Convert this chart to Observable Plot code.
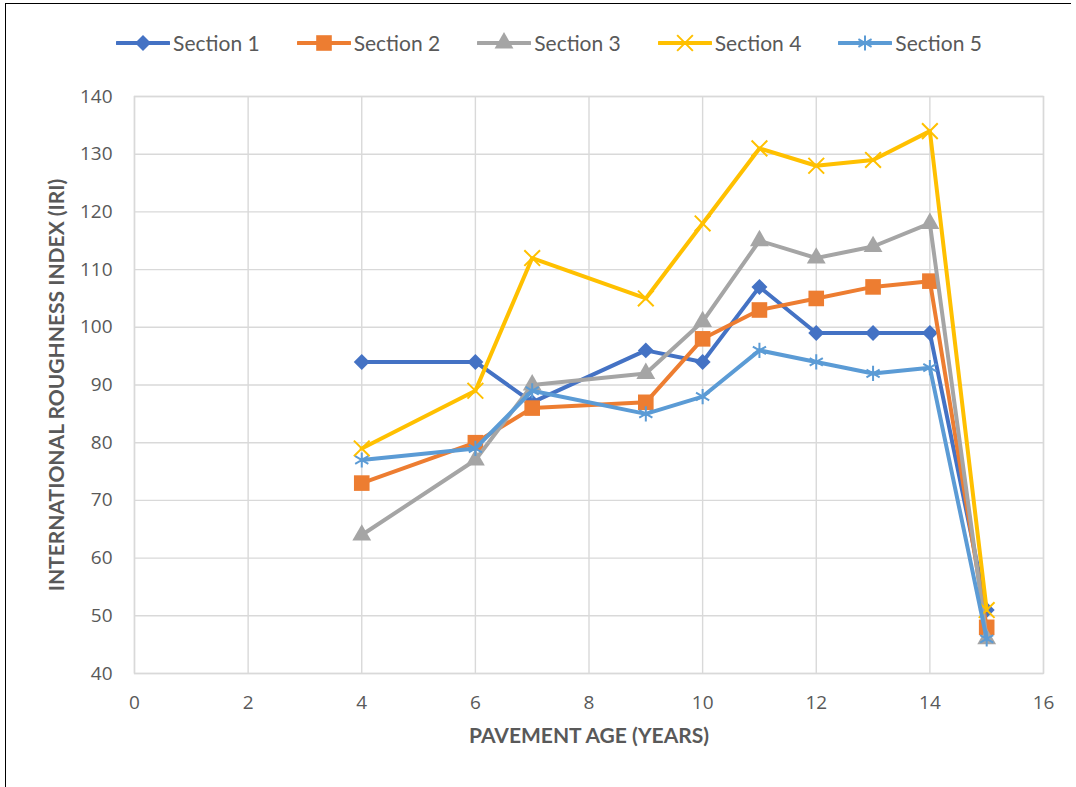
<!DOCTYPE html>
<html>
<head>
<meta charset="utf-8">
<script src="https://cdn.jsdelivr.net/npm/d3@7"></script>
<script src="https://cdn.jsdelivr.net/npm/@observablehq/plot@0.6"></script>
<style>
  html, body { margin: 0; padding: 0; background: #fff; }
  #page {
    position: relative; overflow: hidden;
    box-sizing: border-box; border-left: 1.5px solid #000; border-top: 1.5px solid #000;
    margin-left: 5px; margin-top: 3px; width: 1066px; height: 784px;
  }
  #wrap { position: absolute; left: -6.5px; top: -4.5px; width: 1076px; }
  #legend {
    height: 70px; display: flex; justify-content: center; align-items: center;
    gap: 37px; font-family: Lato, "Open Sans", sans-serif; font-size: 21px; color: #595959;
    padding-top: 16px; box-sizing: border-box; padding-left: 23px;
  }
  .item { display: flex; align-items: center; gap: 3px; }
  .item svg { display: block; }
</style>
</head>
<body>
<div id="page"><div id="wrap">
  <div id="legend"></div>
  <div id="chart"></div>
</div></div>
<script>
// Pavement age (years) at which roughness was measured
const ages = [4, 6, 7, 9, 10, 11, 12, 13, 14, 15];

// International Roughness Index per section
const section1 = [94, 94, 87, 96, 94, 107, 99, 99, 99, 51];
const section2 = [73, 80, 86, 87, 98, 103, 105, 107, 108, 48];
const section3 = [64, 77, 90, 92, 101, 115, 112, 114, 118, 46];
const section4 = [79, 89, 112, 105, 118, 131, 128, 129, 134, 51];
const section5 = [77, 79, 89, 85, 88, 96, 94, 92, 93, 46];

const sectionNames = ["Section 1", "Section 2", "Section 3", "Section 4", "Section 5"];
const sectionValues = [section1, section2, section3, section4, section5];

const xTicks = [0, 2, 4, 6, 8, 10, 12, 14, 16];
const yTicks = [40, 50, 60, 70, 80, 90, 100, 110, 120, 130, 140];

const colors = ["#4472C4", "#ED7D31", "#A5A5A5", "#FFC000", "#5B9BD5"];
const symbols = ["diamond2", "square", "triangle", "times", "asterisk"];
const d3Symbols = [d3.symbolDiamond2, d3.symbolSquare, d3.symbolTriangle, d3.symbolTimes, d3.symbolAsterisk];
const filled = [true, true, true, false, false];
const markerR = [7.2, 8.8, 7, 7.2, 7.2];

// Legend
const legend = document.getElementById("legend");
sectionNames.forEach((name, i) => {
  const item = document.createElement("div");
  item.className = "item";
  const svg = d3.create("svg").attr("width", 54).attr("height", 22);
  svg.append("line").attr("x1", 1).attr("x2", 53).attr("y1", 11).attr("y2", 11)
    .attr("stroke", colors[i]).attr("stroke-width", 4).attr("stroke-linecap", "round");
  const size = Math.PI * markerR[i] * markerR[i];
  svg.append("path").attr("transform", "translate(27,11)")
    .attr("d", d3.symbol(d3Symbols[i], size)())
    .attr("fill", filled[i] ? colors[i] : "none")
    .attr("stroke", colors[i]).attr("stroke-width", filled[i] ? 0 : 2);
  item.appendChild(svg.node());
  const label = document.createElement("span");
  label.textContent = name;
  item.appendChild(label);
  legend.appendChild(item);
});

// Long-format rows for each section
const rows = sectionNames.map((name, i) =>
  ages.map((age, j) => ({ section: name, age, iri: sectionValues[i][j] }))
);

const seriesMarks = rows.flatMap((data, i) => [
  Plot.line(data, { x: "age", y: "iri", stroke: colors[i], strokeWidth: 4, strokeLinejoin: "round" }),
  Plot.dot(data, filled[i]
    ? { x: "age", y: "iri", symbol: () => symbols[i], r: markerR[i], fill: colors[i], stroke: "none" }
    : { x: "age", y: "iri", symbol: () => symbols[i], r: markerR[i], fill: "none", stroke: colors[i], strokeWidth: 2 })
]);

const chart = Plot.plot({
  width: 1076,
  height: 717,
  marginLeft: 134,
  marginRight: 33,
  marginTop: 26,
  marginBottom: 114,
  style: { fontFamily: "'Open Sans', sans-serif", fontSize: "19px", color: "#595959", background: "transparent", overflow: "visible" },
  x: { domain: [0, 16] },
  y: { domain: [40, 140] },
  symbol: { type: "identity" },
  marks: [
    Plot.gridX(xTicks, { stroke: "#d9d9d9", strokeOpacity: 1, strokeWidth: 1.4 }),
    Plot.gridY(yTicks, { stroke: "#d9d9d9", strokeOpacity: 1, strokeWidth: 1.4 }),
    Plot.frame({ stroke: "#d9d9d9", strokeWidth: 1.4 }),
    Plot.axisX(xTicks, { tickSize: 0, tickPadding: 22, label: null, fill: "#595959", fontSize: 19 }),
    Plot.axisY(yTicks, { tickSize: 0, tickPadding: 22, label: null, fill: "#595959", fontSize: 19 }),
    Plot.text(["PAVEMENT AGE (YEARS)"], {
      frameAnchor: "bottom", dy: 69, textAnchor: "middle", fontWeight: "bold", fontSize: 21,
      fontFamily: "Lato, sans-serif", fill: "#595959"
    }),
    Plot.text(["INTERNATIONAL ROUGHNESS INDEX (IRI)"], {
      frameAnchor: "left", dx: -77, rotate: -90, textAnchor: "middle", fontWeight: "bold", fontSize: 21,
      fontFamily: "Lato, sans-serif", fill: "#595959"
    }),
    ...seriesMarks
  ]
});
document.getElementById("chart").appendChild(chart);
</script>
</body>
</html>
